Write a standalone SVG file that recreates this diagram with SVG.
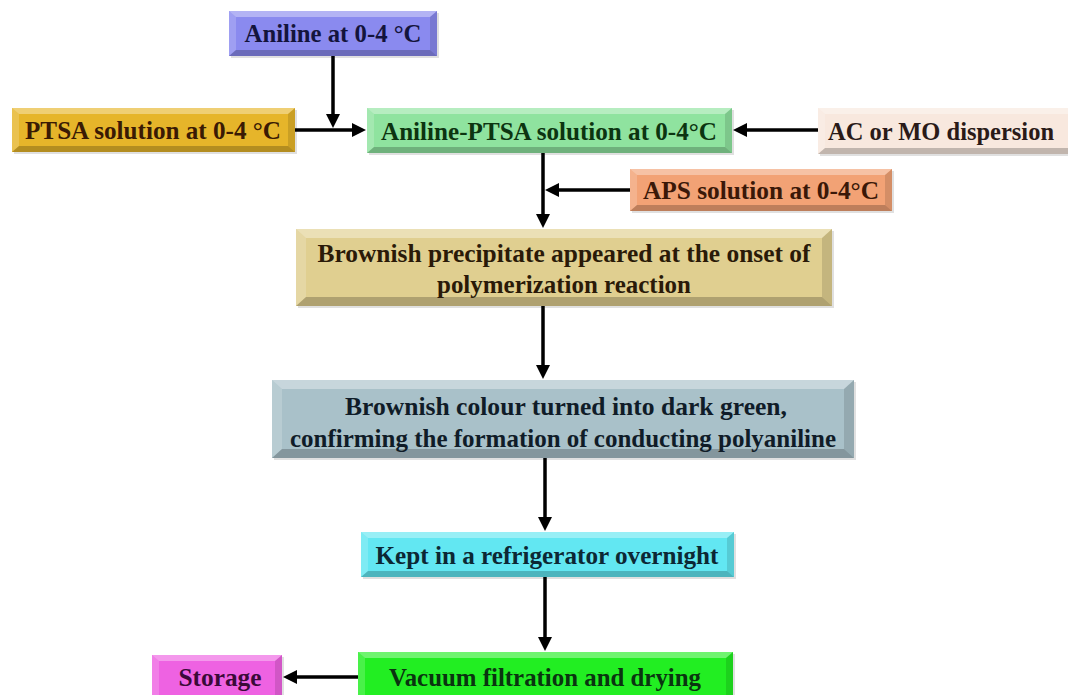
<svg xmlns="http://www.w3.org/2000/svg" width="1068" height="695" viewBox="0 0 1068 695">
<defs>
<style>
.t{font-family:"Liberation Serif","Times New Roman",serif;font-weight:bold;font-size:26px;text-anchor:middle}
.hl{fill:#ffffff;opacity:0.35}
.hs{fill:#ffffff;opacity:0.18}
.ds{fill:#000000;opacity:0.12}
.db{fill:#000000;opacity:0.22}
.c{stroke:#000;stroke-width:3.5;fill:none}
.sh{fill:#000;opacity:0.12}
</style>
<marker id="ah" markerUnits="userSpaceOnUse" markerWidth="14" markerHeight="14" refX="10" refY="7" orient="auto">
<path d="M0,0 L14,7 L0,14 z" fill="#000"/>
</marker>
</defs>
<rect width="1068" height="695" fill="#ffffff"/>

<g id="aniline">
<rect class="sh" x="231" y="13" width="208" height="45"/>
<rect x="229" y="11" width="208" height="45" fill="#8a8aef"/>
<polygon class="hl" points="229,11 437,11 430,17 236,17"/>
<polygon class="hs" points="229,11 236,17 236,50 229,56"/>
<polygon class="ds" points="437,11 437,56 430,50 430,17"/>
<polygon class="db" points="229,56 236,50 430,50 437,56"/>
<text class="t" x="333" y="42" fill="#14143c" textLength="177" lengthAdjust="spacingAndGlyphs">Aniline  at 0-4 °C</text>
</g>

<g id="ptsa">
<rect class="sh" x="14" y="110" width="283" height="44"/>
<rect x="12" y="108" width="283" height="44" fill="#e6b52a"/>
<polygon class="hl" points="12,108 295,108 288,114 19,114"/>
<polygon class="hs" points="12,108 19,114 19,146 12,152"/>
<polygon class="ds" points="295,108 295,152 288,146 288,114"/>
<polygon class="db" points="12,152 19,146 288,146 295,152"/>
<text class="t" x="153" y="139" fill="#3a1a04" textLength="256" lengthAdjust="spacingAndGlyphs">PTSA solution  at 0-4 °C</text>
</g>

<g id="aniline-ptsa">
<rect class="sh" x="369" y="110" width="365" height="45"/>
<rect x="367" y="108" width="365" height="45" fill="#8fe39f"/>
<polygon class="hl" points="367,108 732,108 725,114 374,114"/>
<polygon class="hs" points="367,108 374,114 374,147 367,153"/>
<polygon class="ds" points="732,108 732,153 725,147 725,114"/>
<polygon class="db" points="367,153 374,147 725,147 732,153"/>
<text class="t" x="549" y="140" fill="#0c3410" textLength="336" lengthAdjust="spacingAndGlyphs">Aniline-PTSA  solution  at 0-4°C</text>
</g>

<g id="ac-mo">
<rect class="sh" x="820" y="110" width="248" height="46"/>
<rect x="818" y="108" width="250" height="46" fill="#f8e8de"/>
<polygon class="hl" points="818,108 1068,108 1068,114 825,114"/>
<polygon class="hs" points="818,108 825,114 825,148 818,154"/>
<polygon class="db" points="818,154 825,148 1068,148 1068,154"/>
<text class="t" x="941" y="140" fill="#2a1a18" textLength="226" lengthAdjust="spacingAndGlyphs">AC or MO dispersion</text>
</g>

<g id="aps">
<rect class="sh" x="632" y="171" width="262" height="42"/>
<rect x="630" y="169" width="262" height="42" fill="#f2a275"/>
<polygon class="hl" points="630,169 892,169 885,175 637,175"/>
<polygon class="hs" points="630,169 637,175 637,205 630,211"/>
<polygon class="ds" points="892,169 892,211 885,205 885,175"/>
<polygon class="db" points="630,211 637,205 885,205 892,211"/>
<text class="t" x="761" y="199" fill="#3a1808" textLength="236" lengthAdjust="spacingAndGlyphs">APS solution  at 0-4°C</text>
</g>

<g id="precipitate">
<rect class="sh" x="298" y="231" width="536" height="77"/>
<rect x="296" y="229" width="536" height="77" fill="#e0cf90"/>
<polygon class="hl" points="296,229 832,229 822,238 306,238"/>
<polygon class="hs" points="296,229 306,238 306,297 296,306"/>
<polygon class="ds" points="832,229 832,306 822,297 822,238"/>
<polygon class="db" points="296,306 306,297 822,297 832,306"/>
<text class="t" x="564" y="262" fill="#2a1a08" textLength="493" lengthAdjust="spacingAndGlyphs">Brownish  precipitate  appeared  at the onset of</text>
<text class="t" x="564" y="293" fill="#2a1a08" textLength="254" lengthAdjust="spacingAndGlyphs">polymerization  reaction</text>
</g>

<g id="dark-green">
<rect class="sh" x="274" y="382" width="582" height="78"/>
<rect x="272" y="380" width="582" height="78" fill="#a9c1c9"/>
<polygon class="hl" points="272,380 854,380 844,389 282,389"/>
<polygon class="hs" points="272,380 282,389 282,449 272,458"/>
<polygon class="ds" points="854,380 854,458 844,449 844,389"/>
<polygon class="db" points="272,458 282,449 844,449 854,458"/>
<text class="t" x="566" y="415" fill="#101c28" textLength="442" lengthAdjust="spacingAndGlyphs">Brownish  colour turned  into dark  green,</text>
<text class="t" x="563" y="447" fill="#101c28" textLength="546" lengthAdjust="spacingAndGlyphs">confirming  the formation  of conducting  polyaniline</text>
</g>

<g id="refrigerator">
<rect class="sh" x="363" y="534" width="373" height="45"/>
<rect x="361" y="532" width="373" height="45" fill="#62e7f2"/>
<polygon class="hl" points="361,532 734,532 727,538 368,538"/>
<polygon class="hs" points="361,532 368,538 368,571 361,577"/>
<polygon class="ds" points="734,532 734,577 727,571 727,538"/>
<polygon class="db" points="361,577 368,571 727,571 734,577"/>
<text class="t" x="547" y="564" fill="#0c2834" textLength="343" lengthAdjust="spacingAndGlyphs">Kept in  a refrigerator  overnight</text>
</g>

<g id="vacuum">
<rect class="sh" x="360" y="654" width="375" height="41"/>
<rect x="358" y="652" width="375" height="43" fill="#22ee22"/>
<polygon class="hl" points="358,652 733,652 726,658 365,658"/>
<polygon class="hs" points="358,652 365,658 365,695 358,695"/>
<polygon class="ds" points="733,652 733,695 726,695 726,658"/>
<text class="t" x="545" y="686" fill="#0a3410" textLength="312" lengthAdjust="spacingAndGlyphs">Vacuum  filtration  and  drying</text>
</g>

<g id="storage">
<rect class="sh" x="154" y="657" width="130" height="38"/>
<rect x="152" y="655" width="130" height="40" fill="#ee62e2"/>
<polygon class="hl" points="152,655 282,655 275,661 159,661"/>
<polygon class="hs" points="152,655 159,661 159,695 152,695"/>
<polygon class="ds" points="282,655 282,695 275,695 275,661"/>
<text class="t" x="220" y="686" fill="#3a0a38" textLength="83" lengthAdjust="spacingAndGlyphs">Storage</text>
</g>

<g id="connectors">
<line class="c" x1="333" y1="56" x2="333" y2="124" marker-end="url(#ah)"/>
<line class="c" x1="295" y1="130" x2="362" y2="130" marker-end="url(#ah)"/>
<line class="c" x1="818" y1="130" x2="737" y2="130" marker-end="url(#ah)"/>
<line class="c" x1="543" y1="153" x2="543" y2="224" marker-end="url(#ah)"/>
<line class="c" x1="630" y1="190" x2="549" y2="190" marker-end="url(#ah)"/>
<line class="c" x1="543" y1="306" x2="543" y2="375" marker-end="url(#ah)"/>
<line class="c" x1="545" y1="458" x2="545" y2="527" marker-end="url(#ah)"/>
<line class="c" x1="545" y1="577" x2="545" y2="647" marker-end="url(#ah)"/>
<line class="c" x1="358" y1="677" x2="287" y2="677" marker-end="url(#ah)"/>
</g>
</svg>
